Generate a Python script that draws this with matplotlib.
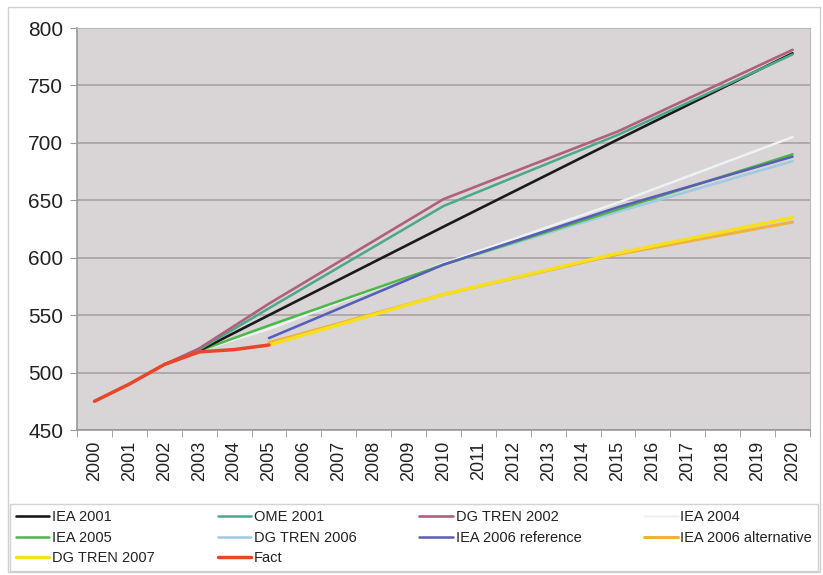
import matplotlib

matplotlib.use("Agg")
import matplotlib.pyplot as plt
import numpy as np
from matplotlib.patches import Rectangle

plt.rcParams["font.family"] = ["Liberation Sans", "DejaVu Sans"]

YEARS = list(range(2000, 2021))

# forecast series, years with values
IEA_2001_X = [2002, 2003, 2005, 2010, 2015, 2020]
IEA_2001_Y = [507, 519, 550, 627, 703, 778]
OME_2001_X = [2002, 2003, 2005, 2010, 2015, 2020]
OME_2001_Y = [507, 520, 556, 645, 707, 777]
DGT_2002_X = [2002, 2003, 2005, 2010, 2015, 2020]
DGT_2002_Y = [507, 521, 560, 651, 710, 781]
IEA_2004_X = [2003, 2005, 2010, 2015, 2020]
IEA_2004_Y = [519, 538, 595, 648, 705]
IEA_2005_X = [2003, 2005, 2010, 2015, 2020]
IEA_2005_Y = [519, 541, 594, 642, 690]
DGT_2006_X = [2005, 2010, 2015, 2020]
DGT_2006_Y = [530, 594, 640, 684]
IEA_2006R_X = [2005, 2010, 2015, 2020]
IEA_2006R_Y = [530, 594, 644, 688]
IEA_2006A_X = [2005, 2010, 2015, 2020]
IEA_2006A_Y = [526, 568, 603, 631]
DGT_2007_X = [2005, 2010, 2015, 2020]
DGT_2007_Y = [524, 568, 604, 635]
FACT_X = [2000, 2001, 2002, 2003, 2004, 2005]
FACT_Y = [475, 490, 507, 518, 520, 524]

# (label, years, values, colour, width) in drawing order
SERIES = [
    ("IEA 2004", IEA_2004_X, IEA_2004_Y, "#eef1f5", 1.8),
    ("DG TREN 2006", DGT_2006_X, DGT_2006_Y, "#9fcbe2", 1.8),
    ("IEA 2005", IEA_2005_X, IEA_2005_Y, "#4cb848", 1.8),
    ("IEA 2006 reference", IEA_2006R_X, IEA_2006R_Y, "#5a5cb8", 1.8),
    ("IEA 2006 alternative", IEA_2006A_X, IEA_2006A_Y, "#f0b23a", 2.2),
    ("DG TREN 2007", DGT_2007_X, DGT_2007_Y, "#f6e01e", 2.4),
    ("IEA 2001", IEA_2001_X, IEA_2001_Y, "#1a1a1a", 1.9),
    ("OME 2001", OME_2001_X, OME_2001_Y, "#4aa88c", 1.8),
    ("DG TREN 2002", DGT_2002_X, DGT_2002_Y, "#b0607c", 1.9),
    ("Fact", FACT_X, FACT_Y, "#e8452a", 2.5),
]
# legend reads row by row across four columns
LEGEND_ORDER = ["IEA 2001", "IEA 2005", "DG TREN 2007", "OME 2001", "DG TREN 2006",
                "Fact", "DG TREN 2002", "IEA 2006 reference", "IEA 2004",
                "IEA 2006 alternative"]

fig = plt.figure(figsize=(8.23, 5.75), dpi=100)
fig.patch.set_facecolor("white")
fig.add_artist(Rectangle((8 / 823, 3 / 575), 812 / 823, 565 / 575, transform=fig.transFigure,
                         fill=False, edgecolor="#d0d0d0", lw=1.0))

ax = fig.add_axes([77 / 823, 1 - 430 / 575, 733 / 823, 402 / 575])
ax.set_facecolor("#d9d4d5")

handles = {}
for label, xs, ys, color, lw in SERIES:
    idx = [YEARS.index(x) for x in xs]
    (ln,) = ax.plot(idx, ys, color=color, lw=lw, solid_capstyle="round", label=label)
    handles[label] = ln

ax.set_xlim(-0.5, len(YEARS) - 0.5)
ax.set_ylim(450, 800)
ax.set_yticks(np.arange(450, 801, 50))
ax.yaxis.grid(True, color="#aca6a7", lw=1.3)
ax.set_axisbelow(True)
ax.tick_params(axis="y", length=5, color="#999999", labelsize=15, pad=5, labelcolor="#222222")

ax.set_xticks(np.arange(len(YEARS)))
ax.set_xticklabels([str(y) for y in YEARS], rotation=90, fontsize=13, color="#222222")
ax.set_xticks(np.arange(len(YEARS) + 1) - 0.5, minor=True)
ax.tick_params(axis="x", which="major", length=0, pad=8)
ax.tick_params(axis="x", which="minor", length=5, color="#999999")

for side in ["top", "right"]:
    ax.spines[side].set_color("#bdb8b8")
for side in ["left", "bottom"]:
    ax.spines[side].set_color("#999999")
    ax.spines[side].set_linewidth(1.2)

leg = fig.legend([handles[k] for k in LEGEND_ORDER], LEGEND_ORDER, ncol=4, mode="expand",
                 loc="lower left", bbox_to_anchor=(10 / 823, 4 / 575, 808 / 823, 69 / 575),
                 frameon=True, fancybox=False, edgecolor="#c8c8c8", handlelength=2.3,
                 handletextpad=0.2, borderaxespad=0, labelspacing=0.45, fontsize=10.5)
leg.get_frame().set_linewidth(1.0)
for t in leg.get_texts():
    t.set_color("#222222")

fig.savefig("out.png", dpi=100)
